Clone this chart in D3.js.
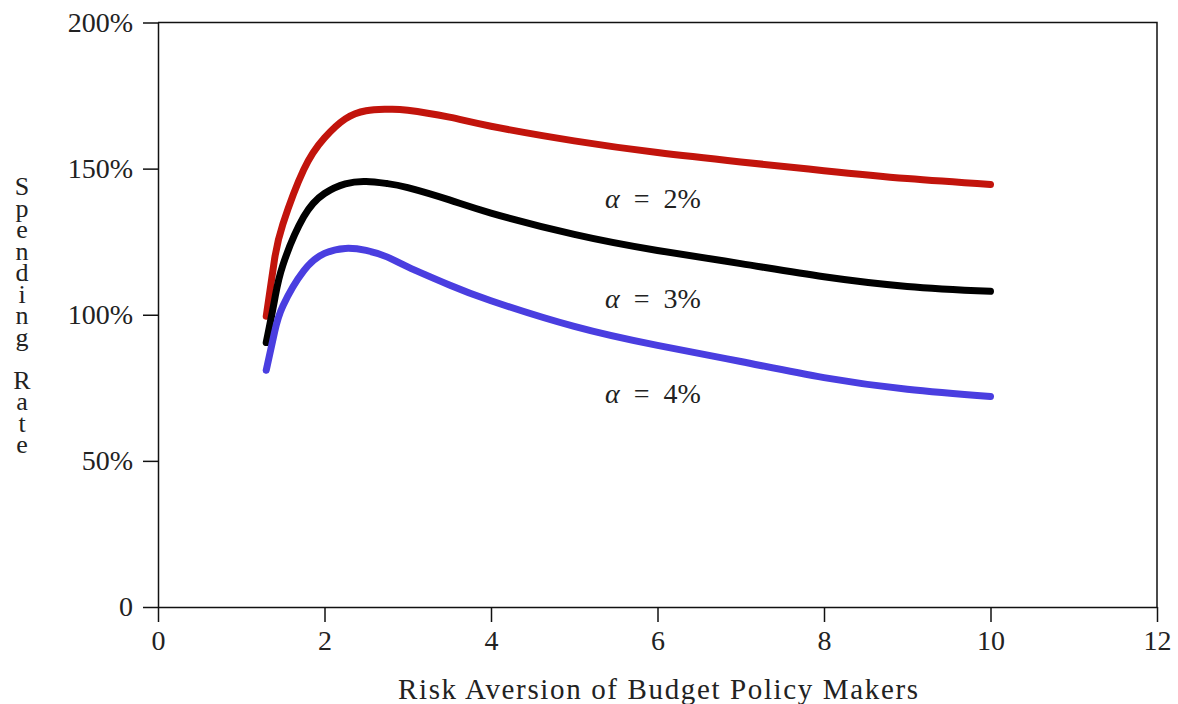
<!DOCTYPE html>
<html>
<head>
<meta charset="utf-8">
<script src="https://cdn.jsdelivr.net/npm/d3@7"></script>
<style>
  body { margin: 0; background: #fff; }
  svg text { font-family: "Liberation Serif", "DejaVu Serif", serif; fill: #222; }
</style>
</head>
<body>
<div id="chart"></div>
<script>
// risk aversion grid and spending rate (%)
const riskAversion = [1.3, 1.4, 1.5, 1.75, 2, 2.25, 2.5, 2.75, 3, 3.5, 4, 5, 6, 7, 8, 9, 10];
const alpha2 = [99.5, 119, 131, 149.6, 160.5, 167, 169.8, 170.3, 170, 167.6, 164.5, 159.5, 155.5, 152.3, 149.3, 146.6, 144.6];
const alpha3 = [90.5, 105, 117, 133.5, 141.5, 144.8, 145.6, 144.9, 143.5, 139.3, 134.8, 127.5, 122, 117.5, 113, 109.7, 108];
const alpha4 = [81, 94, 103, 115, 121, 122.7, 122, 119.8, 116.4, 110.2, 104.8, 96, 89.5, 84, 78.5, 74.5, 72];

const seriesNames = ['2%', '3%', '4%'];
const seriesColors = ['#c2140c', '#000000', '#4a3ee0'];
const labelAt = [[5.37, 136.4], [5.37, 102.2], [5.37, 69.7]]; // label anchor (x, y value)

const xTicks = [0, 2, 4, 6, 8, 10, 12];
const yTicks = [0, 50, 100, 150, 200];

const W = 1178, H = 704;
const margin = { top: 22.5, right: 21, bottom: 97, left: 158 };
const width = W - margin.left - margin.right;
const height = H - margin.top - margin.bottom;

const svg = d3.select('#chart')
  .append('svg')
  .attr('width', W)
  .attr('height', H);

const g = svg.append('g')
  .attr('transform', 'translate(' + margin.left + ',' + margin.top + ')');

const x = d3.scaleLinear().domain([0, 12]).range([0, width]);
const y = d3.scaleLinear().domain([0, 200]).range([height, 0]);

// frame (top and right)
g.append('path')
  .attr('d', 'M' + x(0) + ',' + y(200) + 'H' + x(12) + 'V' + y(0))
  .attr('fill', 'none')
  .attr('stroke', '#111')
  .attr('stroke-width', 1.5);

// x axis
const xAxis = g.append('g')
  .attr('transform', 'translate(0,' + height + ')')
  .call(d3.axisBottom(x).tickValues(xTicks).tickSize(15).tickSizeOuter(0).tickPadding(8));
xAxis.selectAll('text').attr('font-size', '28px').attr('font-family', '"Liberation Serif", serif').attr('fill', '#222');

// y axis
const yAxis = g.append('g')
  .call(d3.axisLeft(y).tickValues(yTicks).tickSize(15).tickSizeOuter(0).tickPadding(10)
    .tickFormat(d => d === 0 ? '0' : d + '%'));
yAxis.selectAll('text').attr('font-size', '28px').attr('font-family', '"Liberation Serif", serif').attr('fill', '#222');

svg.selectAll('.domain, .tick line').attr('stroke', '#111').attr('stroke-width', 1.5);

// curves
const series = [alpha2, alpha3, alpha4];
const line = d3.line()
  .x((d, i) => x(riskAversion[i]))
  .y(d => y(d))
  .curve(d3.curveNatural);

g.selectAll('path.curve')
  .data(series)
  .enter()
  .append('path')
  .attr('class', 'curve')
  .attr('d', d => line(d))
  .attr('fill', 'none')
  .attr('stroke', (d, i) => seriesColors[i])
  .attr('stroke-width', 7)
  .attr('stroke-linecap', 'round')
  .attr('stroke-linejoin', 'round');

// curve labels
const lbl = g.selectAll('text.lbl')
  .data(seriesNames)
  .enter()
  .append('text')
  .attr('class', 'lbl')
  .attr('x', (d, i) => x(labelAt[i][0]))
  .attr('y', (d, i) => y(labelAt[i][1]))
  .attr('font-size', '28px');
lbl.append('tspan').attr('font-style', 'italic').text('α');
lbl.append('tspan').attr('dx', 14).text('=');
lbl.append('tspan').attr('dx', 14).text(d => d);

// axis titles
svg.append('text')
  .attr('x', 658)
  .attr('y', 699)
  .attr('text-anchor', 'middle')
  .attr('font-size', '29px')
  .attr('textLength', 520)
  .attr('lengthAdjust', 'spacing')
  .text('Risk Aversion of Budget Policy Makers');

// vertical, letter-by-letter y title
const yTitle = 'Spending Rate'.split('');
svg.append('text')
  .attr('font-size', '26px')
  .attr('text-anchor', 'middle')
  .selectAll('tspan')
  .data(yTitle)
  .enter()
  .append('tspan')
  .attr('x', 22)
  .attr('y', (d, i) => 195 + i * 21.5)
  .text(d => d);
</script>
</body>
</html>
